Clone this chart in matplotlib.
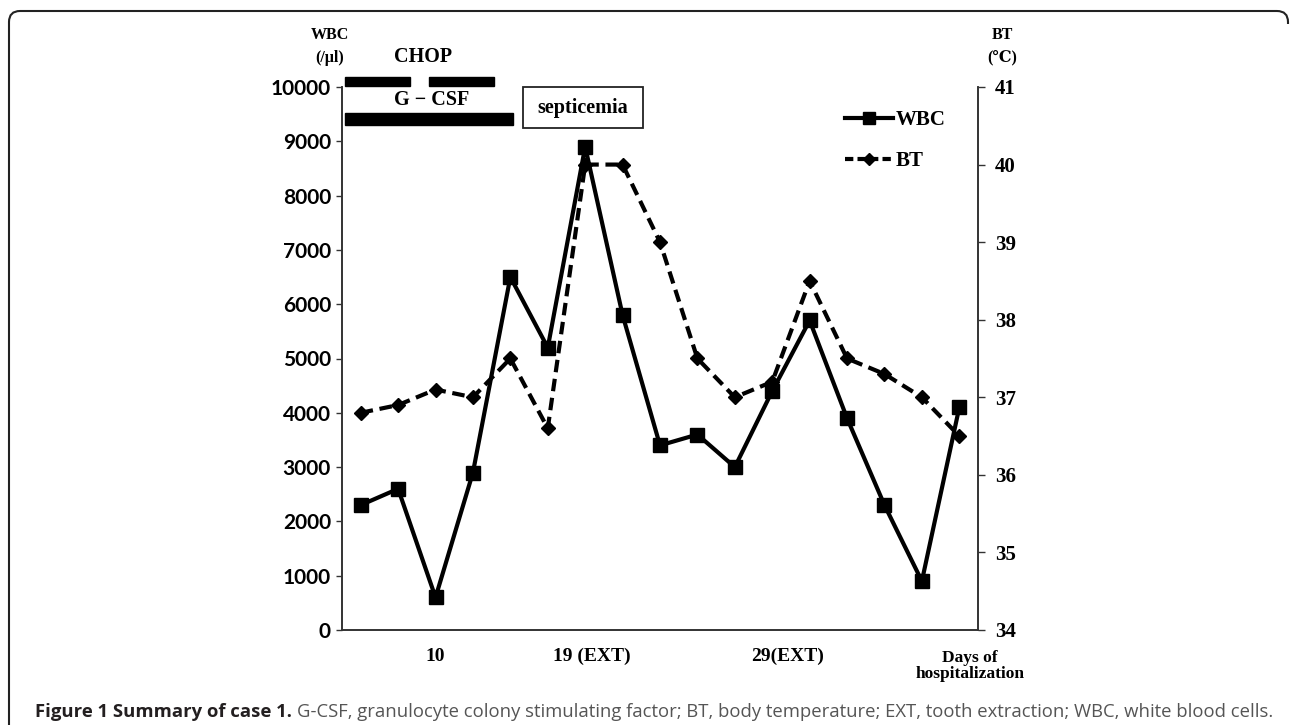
import numpy as np
import matplotlib.pyplot as plt
from matplotlib.path import Path
from matplotlib.patches import PathPatch, Rectangle
from matplotlib.lines import Line2D

wbc = [2300, 2600, 600, 2900, 6500, 5200, 8900, 5800, 3400, 3600,
       3000, 4400, 5700, 3900, 2300, 900, 4100]
bt = [36.8, 36.9, 37.1, 37.0, 37.5, 36.6, 40.0, 40.0, 39.0, 37.5,
      37.0, 37.2, 38.5, 37.5, 37.3, 37.0, 36.5]
day_labels = ['10', '19 (EXT)', '29(EXT)']
day_ticks = [2, 6.17, 11.41]

# treatment periods, in measurement index units
chop_periods = [(-0.42, 1.32), (1.82, 3.56)]
gcsf_period = (-0.42, 4.06)
septicemia_period = (4.33, 7.54)

W, H = 1290, 725
fig = plt.figure(figsize=(W / 100, H / 100), dpi=100)
ax = fig.add_axes([342 / W, 1 - 630 / H, (978 - 342) / W, (630 - 87) / H])
ax2 = ax.twinx()

x = np.arange(len(wbc))
serif = ['Liberation Serif', 'DejaVu Serif']

ax.plot(x, wbc, color='black', lw=3, marker='s', ms=9.5, zorder=3)
ax2.plot(x, bt, color='black', lw=3, dashes=(3, 1.6), marker='D', ms=7, zorder=3)

ax.set_xlim(-0.5, len(wbc) - 0.5)
ax.set_ylim(0, 10000)
ax.set_yticks(np.arange(0, 10001, 1000))
ax2.set_ylim(34, 41)
ax2.set_yticks(np.arange(34, 42, 1))

ax.set_xticks(day_ticks)
ax.set_xticklabels(day_labels, fontfamily=serif, fontweight='bold', fontsize=14)
ax.tick_params(axis='x', length=0, pad=13)
ax.tick_params(axis='y', length=4, width=1, color='#333333', pad=4)
for lab in ax.get_yticklabels():
    lab.set_fontfamily('Lato')
    lab.set_fontweight('bold')
    lab.set_fontsize(15)
ax2.tick_params(axis='y', length=5, width=1, color='#333333', pad=7)
for lab in ax2.get_yticklabels():
    lab.set_fontfamily(serif)
    lab.set_fontweight('bold')
    lab.set_fontsize(15)

for a in (ax, ax2):
    a.spines['top'].set_visible(False)
    for s in ('left', 'right', 'bottom'):
        a.spines[s].set_color('#333333')
        a.spines[s].set_linewidth(1.2)

# CHOP / G-CSF bars and septicemia box
for s, e in chop_periods:
    ax.add_patch(Rectangle((s, 10010), e - s, 180, color='black', clip_on=False))
ax.add_patch(Rectangle((gcsf_period[0], 9300), gcsf_period[1] - gcsf_period[0], 220,
                       color='black', clip_on=False))
ax.add_patch(Rectangle((septicemia_period[0], 9245), septicemia_period[1] - septicemia_period[0],
                       755, fill=False, ec='#222222', lw=1.3, clip_on=False))
ax.text(1.66, 10550, 'CHOP', ha='center', va='center', fontfamily=serif,
        fontsize=14.5, fontweight='bold')
ax.text(1.9, 9760, 'G \u2212 CSF', ha='center', va='center', fontfamily=serif,
        fontsize=14.5, fontweight='bold')
ax.text(sum(septicemia_period) / 2, 9620, 'septicemia', ha='center', va='center',
        fontfamily=serif, fontsize=14.5, fontweight='bold')

# legend
handles = [Line2D([], [], color='black', lw=3, marker='s', ms=8),
           Line2D([], [], color='black', lw=3, dashes=(2, 1), marker='D', ms=6)]
ax.legend(handles, ['WBC', 'BT'], loc='upper left', frameon=False,
          bbox_to_anchor=(845 / W, 1 - 110 / H), bbox_transform=fig.transFigure,
          borderpad=0, borderaxespad=0, handlelength=2.3, handletextpad=0.15,
          labelspacing=1.0, prop={'family': serif, 'weight': 'bold', 'size': 15})

# axis titles
fig.text(330 / W, 1 - 35 / H, 'WBC', ha='center', va='center', fontfamily=serif,
         fontweight='bold', fontsize=11.5)
fig.text(330 / W, 1 - 58 / H, '(/\u03bcl)', ha='center', va='center', fontfamily=serif,
         fontweight='bold', fontsize=11.5)
fig.text(1002 / W, 1 - 35 / H, 'BT', ha='center', va='center', fontfamily=serif,
         fontweight='bold', fontsize=11.5)
fig.text(1002 / W, 1 - 57 / H, '(\u2103)', ha='center', va='center', fontfamily=serif,
         fontweight='bold', fontsize=11.5)
fig.text(970 / W, 1 - 666 / H, 'Days of\nhospitalization', ha='center', va='center',
         fontfamily=serif, fontweight='bold', fontsize=12.5, linespacing=1.05)

# caption
cap1 = fig.text(35 / W, 1 - 712 / H, 'Figure 1 Summary of case 1.', ha='left', va='center',
                fontfamily='Open Sans', fontweight='bold', fontsize=13.3, color='#231f20')
fig.canvas.draw()
bb = cap1.get_window_extent()
fig.text((bb.x1 + 5) / W, 1 - 712 / H,
         'G-CSF, granulocyte colony stimulating factor; BT, body temperature; '
         'EXT, tooth extraction; WBC, white blood cells.',
         ha='left', va='center', fontfamily='Open Sans', fontsize=13.3, color='#555555')

# outer frame with rounded top corners
r = 11
verts = [(9, H), (9, 11 + r), (9, 11), (9 + r, 11), (1288 - r, 11), (1288, 11),
         (1288, 11 + r), (1288, 11 + r + 2)]
codes = [Path.MOVETO, Path.LINETO, Path.CURVE3, Path.CURVE3, Path.LINETO,
         Path.CURVE3, Path.CURVE3, Path.LINETO]
verts = [(vx / W, 1 - vy / H) for vx, vy in verts]
fig.add_artist(PathPatch(Path(verts, codes), fill=False, ec='#222222', lw=1.5,
                         transform=fig.transFigure))

fig.savefig('out.png', dpi=100)
